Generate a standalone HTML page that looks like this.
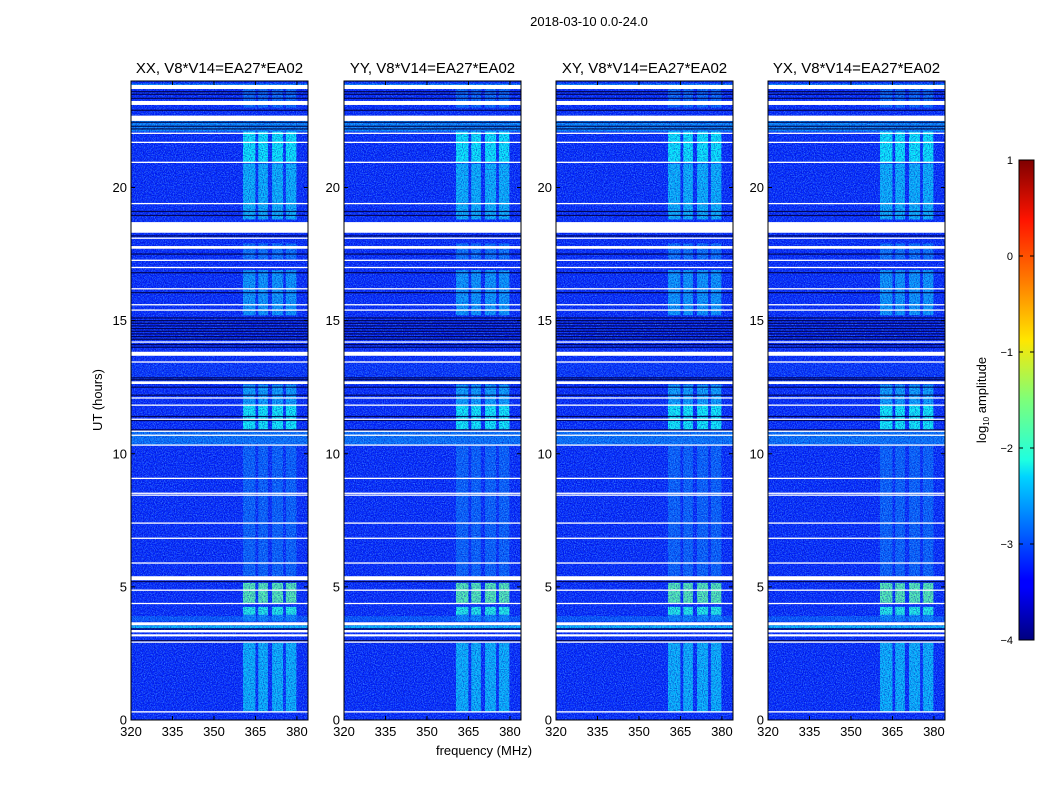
<!DOCTYPE html>
<html><head><meta charset="utf-8">
<style>
body{margin:0;background:#fff;}
svg text{font-family:"Liberation Sans",sans-serif;}
</style></head>
<body>
<svg id="chart" width="1050" height="800" viewBox="0 0 1050 800" xmlns="http://www.w3.org/2000/svg">
<defs>
<filter id="nz" x="0" y="0" width="100%" height="100%">
<feTurbulence type="fractalNoise" baseFrequency="0.9" numOctaves="1" seed="3" result="t"/>
<feColorMatrix in="t" type="matrix" values="0 0 0 0 0.1  0 0 0 0 0.45  0 0 0 0 1  0 0 0 -3.2 1.9"/>
</filter>
<filter id="nz2" x="0" y="0" width="100%" height="100%">
<feTurbulence type="fractalNoise" baseFrequency="0.85" numOctaves="1" seed="9" result="t"/>
<feColorMatrix in="t" type="matrix" values="0 0 0 0 0  0 0 0 0 0  0 0 0 0 0.45  0 0 0 -3.5 2.0"/>
</filter>
<linearGradient id="jet" x1="0" y1="1" x2="0" y2="0">
<stop offset="0" stop-color="#00007f"/><stop offset="0.11" stop-color="#0000ff"/>
<stop offset="0.125" stop-color="#0000ff"/><stop offset="0.34" stop-color="#00d4ff"/>
<stop offset="0.375" stop-color="#1fffe0"/><stop offset="0.5" stop-color="#7dff7a"/>
<stop offset="0.625" stop-color="#ffe600"/><stop offset="0.75" stop-color="#ff7a00"/>
<stop offset="0.875" stop-color="#ff1400"/><stop offset="1" stop-color="#7f0000"/>
</linearGradient>
</defs>
<text x="589" y="26" font-size="13" text-anchor="middle">2018-03-10 0.0-24.0</text>
<g id="panels"></g>
<text transform="translate(102,400) rotate(-90)" font-size="13" text-anchor="middle">UT (hours)</text>
<text x="484" y="755" font-size="13" text-anchor="middle">frequency (MHz)</text>
<g>
<rect x="1019" y="160" width="15" height="480" fill="url(#jet)" stroke="#000" stroke-width="1"/>
<g id="cbticks"></g>
<text transform="translate(986,400) rotate(-90)" font-size="13" text-anchor="middle">log<tspan font-size="8" dy="3">10</tspan><tspan dy="-3"> amplitude</tspan></text>
</g>
</svg>
<script>
const panelTitles=["XX, V8*V14=EA27*EA02","YY, V8*V14=EA27*EA02","XY, V8*V14=EA27*EA02","YX, V8*V14=EA27*EA02"];
const panelLefts=[131,344,556,768];
const xTicks=[320,335,350,365,380];
const yTicks=[0,5,10,15,20];
const cbTicks=[-4,-3,-2,-1,0,1];
// RFI channels [startMHz,endMHz]
const channels=[[360.5,365],[366,369.5],[371,375],[376,379.8]];
// time blocks with channel emission [startH,endH,log10 amplitude]
const blocks=[[0.3,2.9,-2.45],[3.7,3.95,-2.7],[3.95,4.25,-2.0],[4.4,5.15,-1.7],[5.4,10.3,-2.9],[10.9,11.85,-2.1],[11.85,12.6,-2.55],[15.2,16.9,-2.6],[17.3,17.9,-2.8],[18.8,20.9,-2.45],[20.95,22.1,-2.15],[23.0,23.7,-2.85]];
// whole-band brighter rows [startH,endH,log10 amplitude]
const rows=[[3.45,3.55,-2.4],[3.7,3.9,-2.95],[10.35,10.85,-2.8],[22.1,22.5,-2.7],[23.75,23.9,-2.7],[12.7,13.4,-3.15]];
// flagged (white) rows [startH,endH]
const flags=[[0.28,0.33],[2.91,2.95],[3.14,3.22],[3.29,3.38],[3.56,3.67],[4.36,4.4],[4.86,4.9],[5.25,5.4],[5.88,5.92],[6.81,6.85],[7.38,7.42],[8.43,8.47],[8.5,8.54],[9.06,9.1],[10.31,10.35],[10.68,10.72],[10.83,10.87],[11.28,11.32],[11.81,11.85],[12.08,12.12],[12.62,12.72],[13.43,13.47],[13.68,13.83],[14.18,14.22],[15.38,15.42],[15.58,15.62],[16.18,16.22],[16.98,17.02],[17.25,17.29],[17.7,17.8],[18.08,18.12],[18.3,18.7],[19.38,19.42],[20.93,20.97],[21.68,21.72],[22.02,22.06],[22.5,22.7],[23.1,23.25],[23.7,23.85]];
// dark rows [hour]
const darkLines=[2.98,3.42,5.2,10.9,11.25,11.4,12.2,12.5,12.78,12.85,14.0,14.1,14.3,14.4,14.5,14.6,14.7,14.8,14.9,15.0,15.1,16.05,16.8,17.5,18.18,18.95,19.1,22.2,22.3,22.45,22.9,23.35,23.5,23.6];
const XMIN=320,XMAX=384,YMIN=0,YMAX=24,PW=177,TOP=81,BOT=720;
function sy(h){return BOT-(h-YMIN)/(YMAX-YMIN)*(BOT-TOP);}
function jet(v){const t=Math.max(0,Math.min(1,(v+4)/5));
 const c=x=>Math.max(0,Math.min(1,1.5-Math.abs(4*t-x)));
 const r=c(3),g=c(2),b=c(1);
 return `rgb(${Math.round(r*255)},${Math.round(g*255)},${Math.round(b*255)})`;}
const NS="http://www.w3.org/2000/svg";
function el(tag,attrs,parent){const e=document.createElementNS(NS,tag);for(const k in attrs)e.setAttribute(k,attrs[k]);parent.appendChild(e);return e;}
const root=document.getElementById('panels');
panelLefts.forEach((L,pi)=>{
 const sx=f=>L+(f-XMIN)/(XMAX-XMIN)*PW;
 const g=el('g',{},root);
 
 
 const bg=el('rect',{x:L,y:TOP,width:PW,height:BOT-TOP,fill:jet(-3.2)},g);
 
 
 rows.forEach(r=>{const e=el('rect',{x:L,y:sy(r[1]),width:PW,height:sy(r[0])-sy(r[1]),fill:jet(r[2])},g);
  
  });
 blocks.forEach(b=>channels.forEach(c=>{
  const e=el('rect',{x:sx(c[0]),y:sy(b[1]),width:sx(c[1])-sx(c[0]),height:sy(b[0])-sy(b[1]),fill:jet(b[2])},g);
  
  }));
 el('rect',{x:L,y:TOP,width:PW,height:BOT-TOP,filter:'url(#nz)',opacity:0.55},g);
 el('rect',{x:L,y:TOP,width:PW,height:BOT-TOP,filter:'url(#nz2)',opacity:0.5},g);
 darkLines.forEach(h=>{const e=el('rect',{x:L,y:sy(h)-0.6,width:PW,height:1.2,fill:'#000040',opacity:0.85},g);
  
  });
 flags.forEach(f=>{const y1=sy(f[1]),y0=sy(f[0]);const e=el('rect',{x:L,y:y1,width:PW,height:Math.max(1.3,y0-y1),fill:'#fff'},g);
  
  });
 el('rect',{x:L,y:TOP,width:PW,height:BOT-TOP,fill:'none',stroke:'#000','stroke-width':1},g);
 xTicks.forEach(v=>{const x=sx(v);
  el('line',{x1:x,y1:BOT,x2:x,y2:BOT-4,stroke:'#000'},g);
  el('line',{x1:x,y1:TOP,x2:x,y2:TOP+4,stroke:'#000'},g);
  const t=el('text',{x:x,y:BOT+16,'font-size':13,'text-anchor':'middle'},g);t.textContent=v;
  
  });
 yTicks.forEach(v=>{const y=sy(v);
  el('line',{x1:L,y1:y,x2:L+4,y2:y,stroke:'#000'},g);
  el('line',{x1:L+PW,y1:y,x2:L+PW-4,y2:y,stroke:'#000'},g);
  const t=el('text',{x:L-4,y:y+4.5,'font-size':13,'text-anchor':'end'},g);t.textContent=v;
  
  });
 const tt=el('text',{x:L+PW/2,y:73,'font-size':15,'text-anchor':'middle'},g);tt.textContent=panelTitles[pi];
 
 
});
const cb=document.getElementById('cbticks');
cbTicks.forEach(v=>{const y=640-(v+4)/5*480;
 el('line',{x1:1019,y1:y,x2:1023,y2:y,stroke:'#000'},cb);
 el('line',{x1:1034,y1:y,x2:1030,y2:y,stroke:'#000'},cb);
 const t=el('text',{x:1013,y:y+4,'font-size':11,'text-anchor':'end'},cb);t.textContent=(v<0?'\u2212'+(-v):v);
 
 });
</script>
</body></html>
